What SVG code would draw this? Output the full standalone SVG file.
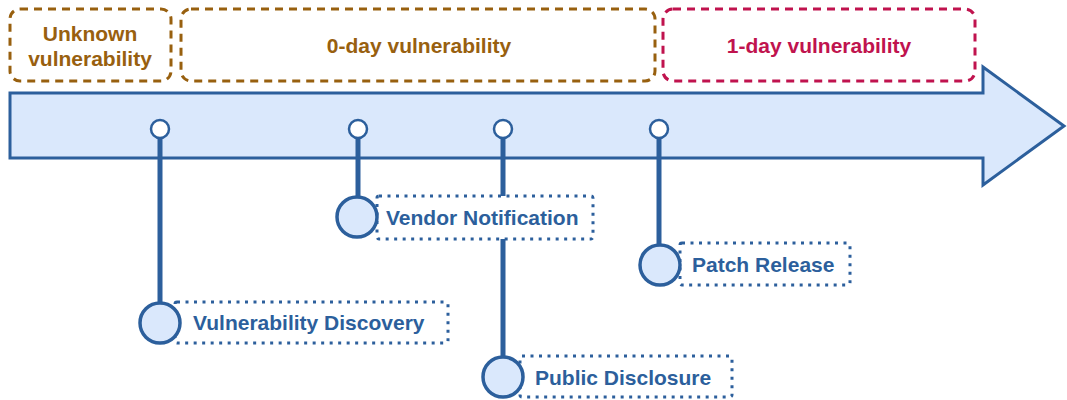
<svg xmlns="http://www.w3.org/2000/svg" width="1067" height="400" viewBox="0 0 1067 400">
<style>
.phase{fill:none;stroke-width:3;stroke-dasharray:8 6;}
.brown{stroke:#98600f;}
.red{stroke:#c0134e;}
.pt{font-family:"Liberation Sans",Arial,sans-serif;font-weight:bold;font-size:21px;text-anchor:middle;}
.stem{stroke:#2c5f9c;stroke-width:5;fill:none;}
.dot{fill:#ffffff;stroke:#2c5f9c;stroke-width:2.5;}
.big{fill:#dae8fc;stroke:#2c5f9c;stroke-width:3.5;}
.lbl{fill:#ffffff;stroke:#2c5f9c;stroke-width:3;stroke-dasharray:3 5.5;}
.lt{font-family:"Liberation Sans",Arial,sans-serif;font-weight:bold;font-size:21px;fill:#2c5f9c;}
</style>
<g id="timeline">
<path d="M10,93 L983,93 L983,67 L1064,126 L983,185 L983,158 L10,158 Z" fill="#dae8fc" stroke="#2c5f9c" stroke-width="3"/>
</g>
<g id="phase-unknown">
<rect class="phase brown" x="10" y="9" width="161" height="72" rx="10"/>
<text class="pt" fill="#98600f" x="90" y="41">Unknown</text>
<text class="pt" fill="#98600f" x="90" y="66">vulnerability</text>
</g>
<g id="phase-0day">
<rect class="phase brown" x="181" y="9" width="474" height="72" rx="10"/>
<text class="pt" fill="#98600f" x="419" y="53">0-day vulnerability</text>
</g>
<g id="phase-1day">
<rect class="phase red" x="663" y="9" width="312" height="72" rx="10"/>
<text class="pt" fill="#c0134e" x="819" y="53">1-day vulnerability</text>
</g>
<g id="connectors">
<line class="stem" x1="160" y1="138" x2="160" y2="302"/>
<line class="stem" x1="358" y1="138" x2="358" y2="196"/>
<line class="stem" x1="503" y1="138" x2="503" y2="356"/>
<line class="stem" x1="659" y1="138" x2="659" y2="244"/>
<circle class="dot" cx="160" cy="129" r="9"/>
<circle class="dot" cx="358" cy="129" r="9"/>
<circle class="dot" cx="503" cy="129" r="9"/>
<circle class="dot" cx="659" cy="129" r="9"/>
</g>
<g id="event-discovery">
<rect class="lbl" x="175" y="302" width="273" height="41" rx="2"/>
<circle class="big" cx="160" cy="323" r="20"/>
<text class="lt" x="193" y="330">Vulnerability Discovery</text>
</g>
<g id="event-vendor">
<rect class="lbl" x="377" y="196" width="216" height="43" rx="2"/>
<circle class="big" cx="357" cy="217" r="20"/>
<text class="lt" x="386" y="225">Vendor Notification</text>
</g>
<g id="event-public">
<rect class="lbl" x="520" y="356" width="212" height="41" rx="2"/>
<circle class="big" cx="503" cy="377" r="20"/>
<text class="lt" x="535" y="385">Public Disclosure</text>
</g>
<g id="event-patch">
<rect class="lbl" x="680" y="243" width="170" height="42" rx="2"/>
<circle class="big" cx="660" cy="265" r="20"/>
<text class="lt" x="692" y="272">Patch Release</text>
</g>
</svg>
